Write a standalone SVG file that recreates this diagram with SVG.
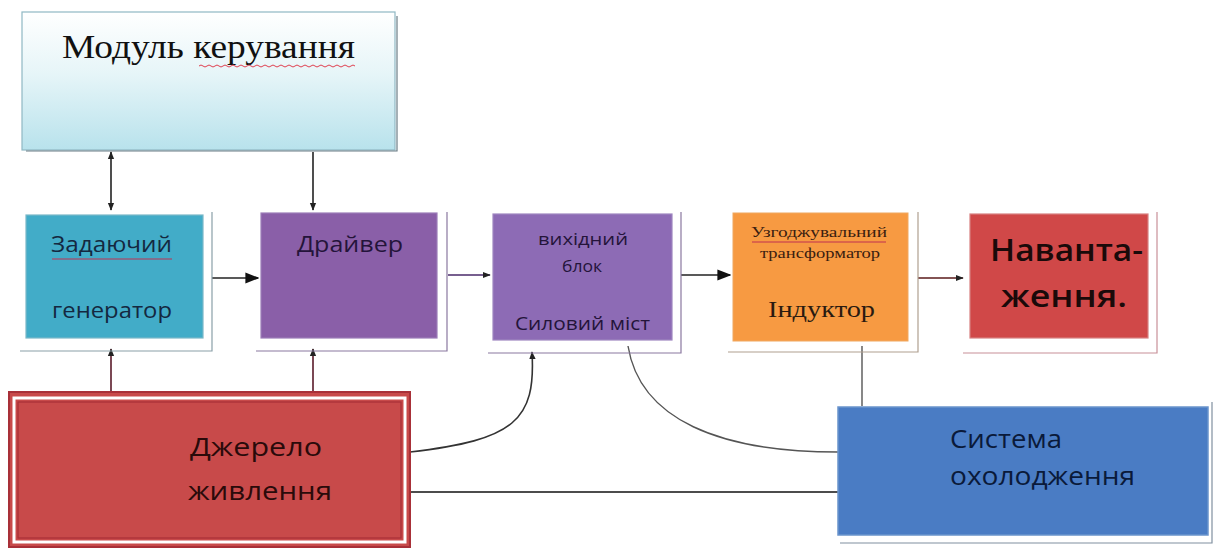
<svg xmlns="http://www.w3.org/2000/svg" width="1214" height="549" viewBox="0 0 1214 549">
<defs>
<linearGradient id="gMod" x1="0" y1="0" x2="0" y2="1">
<stop offset="0" stop-color="#ffffff"/>
<stop offset="0.45" stop-color="#e6f5f8"/>
<stop offset="1" stop-color="#b8e2ec"/>
</linearGradient>
<marker id="ahb" viewBox="0 0 10 10" refX="9" refY="5" markerWidth="14" markerHeight="14" orient="auto" markerUnits="userSpaceOnUse">
<path d="M0,1 L10,5 L0,9 Z" fill="#111"/>
</marker>
<marker id="ahs" viewBox="0 0 10 10" refX="9" refY="5" markerWidth="8" markerHeight="8" orient="auto-start-reverse" markerUnits="userSpaceOnUse">
<path d="M0,1 L10,5 L0,9 Z" fill="#222"/>
</marker>
</defs>
<style>
.sh{fill:none;stroke-width:1.2}
.sans{font-family:"Open Sans","Noto Sans","Liberation Sans",sans-serif}
.serif{font-family:"Liberation Serif","DejaVu Serif",serif}
.c{stroke-width:1.6;fill:none}
</style>
<rect width="1214" height="549" fill="#ffffff"/>

<g id="connectors">
<line x1="111" y1="152" x2="111" y2="210" stroke="#222" class="c" marker-start="url(#ahs)" marker-end="url(#ahs)"/>
<line x1="313" y1="152" x2="313" y2="210" stroke="#222" class="c" marker-end="url(#ahs)"/>
<line x1="212" y1="278" x2="258" y2="278" stroke="#222" class="c" marker-end="url(#ahb)"/>
<line x1="448" y1="275" x2="490" y2="275" stroke="#4a2a6a" class="c" marker-end="url(#ahs)"/>
<line x1="681" y1="275" x2="730" y2="275" stroke="#222" class="c" marker-end="url(#ahb)"/>
<line x1="918" y1="278" x2="963" y2="278" stroke="#5a1a1a" class="c" marker-end="url(#ahs)"/>
<line x1="111" y1="395" x2="111" y2="349" stroke="#5a1a2a" class="c" marker-end="url(#ahs)"/>
<line x1="313" y1="395" x2="313" y2="349" stroke="#5a1a2a" class="c" marker-end="url(#ahs)"/>
<path d="M410,452 C515,440 536,420 532,352" stroke="#333" class="c" marker-end="url(#ahs)"/>
<path d="M628,346 C640,420 720,452 838,452" stroke="#555" stroke-width="1.4" fill="none"/>
<line x1="862" y1="346" x2="862" y2="406" stroke="#555" stroke-width="1.4"/>
<line x1="838" y1="492" x2="402" y2="492" stroke="#111" stroke-width="1.4"/>
</g>

<g id="module">
<rect x="22" y="12" width="373" height="138" fill="url(#gMod)" stroke="#8fb8c4" stroke-width="1.2"/>
<path d="M26,151 H397 V16" class="sh" stroke="#6b7d86"/>
<text x="62" y="58" class="serif" font-size="34" fill="#111" textLength="293" lengthAdjust="spacingAndGlyphs">Модуль керування</text>
<path d="M199,66 q2,-2 4,0 t4,0 t4,0 t4,0 t4,0 t4,0 t4,0 t4,0 t4,0 t4,0 t4,0 t4,0 t4,0 t4,0 t4,0 t4,0 t4,0 t4,0 t4,0 t4,0 t4,0 t4,0 t4,0 t4,0 t4,0 t4,0 t4,0 t4,0 t4,0 t4,0 t4,0 t4,0 t4,0 t4,0 t4,0 t4,0 t4,0 t4,0 t4,0" fill="none" stroke="#e04050" stroke-width="1"/>
</g>

<g id="generator">
<rect x="26" y="215" width="177" height="123" fill="#42acc8" stroke="#7ab8c8" stroke-width="1.2"/>
<path d="M20,351 H212 V212" class="sh" stroke="#8aa0a8"/>
<text x="51" y="252" class="sans" font-size="22" fill="#142840" textLength="121" lengthAdjust="spacingAndGlyphs">Задаючий</text>
<line x1="52" y1="259" x2="172" y2="259" stroke="#c03050" stroke-width="1.2"/>
<text x="52" y="318" class="sans" font-size="22" fill="#142840" textLength="120" lengthAdjust="spacingAndGlyphs">генератор</text>
</g>

<g id="driver">
<rect x="261" y="213" width="176" height="125" fill="#8a5fa8" stroke="#9c7cb8" stroke-width="1.2"/>
<path d="M256,351 H447 V212" class="sh" stroke="#8a78a0"/>
<text x="297" y="252" class="sans" font-size="22" fill="#24143a" textLength="106" lengthAdjust="spacingAndGlyphs">Драйвер</text>
</g>

<g id="output">
<rect x="493" y="214" width="179" height="126" fill="#8d6bb5" stroke="#9f86c0" stroke-width="1.2"/>
<path d="M488,353 H681 V212" class="sh" stroke="#8a78a0"/>
<text x="538" y="245" class="sans" font-size="16" fill="#24143a" textLength="90" lengthAdjust="spacingAndGlyphs">вихідний</text>
<text x="562" y="272" class="sans" font-size="16" fill="#24143a" textLength="40" lengthAdjust="spacingAndGlyphs">блок</text>
<text x="515" y="330" class="sans" font-size="19" fill="#24143a" textLength="135" lengthAdjust="spacingAndGlyphs">Силовий міст</text>
</g>

<g id="transformer">
<rect x="733" y="213" width="175" height="128" fill="#f79a42" stroke="#f0a860" stroke-width="1"/>
<path d="M728,352 H918 V212" class="sh" stroke="#b0a090"/>
<text x="751" y="237" class="serif" font-size="14" fill="#3a2010" textLength="136" lengthAdjust="spacingAndGlyphs">Узгоджувальний</text>
<line x1="752" y1="242" x2="886" y2="242" stroke="#c03050" stroke-width="1"/>
<text x="760" y="258" class="serif" font-size="14" fill="#3a2010" textLength="120" lengthAdjust="spacingAndGlyphs">трансформатор</text>
<text x="768" y="317" class="serif" font-size="24" fill="#2a1a10" textLength="107" lengthAdjust="spacingAndGlyphs">Індуктор</text>
</g>

<g id="load">
<rect x="970" y="214" width="178" height="124" fill="#d04848" stroke="#d88080" stroke-width="1.2"/>
<path d="M963,353 H1157 V212" class="sh" stroke="#c89098"/>
<text x="990" y="261" class="sans" font-size="30" font-weight="600" fill="#1a0a0a" textLength="153" lengthAdjust="spacingAndGlyphs">Наванта-</text>
<text x="1001" y="307" class="sans" font-size="30" font-weight="600" fill="#1a0a0a" textLength="126" lengthAdjust="spacingAndGlyphs">ження.</text>
</g>

<g id="power">
<rect x="9" y="392" width="401" height="155" fill="#c84a4a" stroke="#a83038" stroke-width="2"/>
<rect x="14" y="398" width="391" height="144" fill="none" stroke="#ffffff" stroke-width="3"/>
<rect x="18" y="402" width="383" height="136" fill="#c84a4a" stroke="#a83038" stroke-width="1.2"/>
<text x="190" y="456" class="sans" font-size="26" fill="#2a0a0a" textLength="132" lengthAdjust="spacingAndGlyphs">Джерело</text>
<text x="188" y="500" class="sans" font-size="26" fill="#2a0a0a" textLength="144" lengthAdjust="spacingAndGlyphs">живлення</text>
</g>

<g id="cooling">
<path d="M840,543 H1212 V402" class="sh" stroke="#8090a0" stroke-width="2"/>
<rect x="838" y="407" width="370" height="128" fill="#4a7cc4" stroke="#6a94cc" stroke-width="1.5"/>
<text x="950" y="448" class="sans" font-size="25" fill="#0a1a3a" textLength="112" lengthAdjust="spacingAndGlyphs">Система</text>
<text x="950" y="485" class="sans" font-size="25" fill="#0a1a3a" textLength="185" lengthAdjust="spacingAndGlyphs">охолодження</text>
</g>
</svg>
